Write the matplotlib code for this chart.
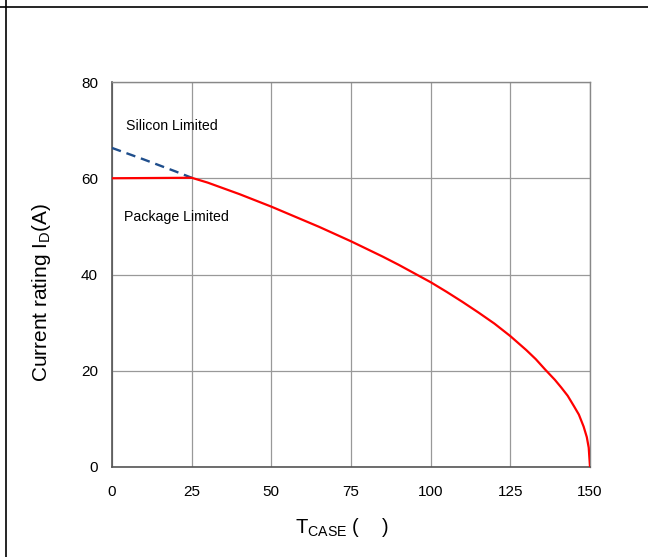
import matplotlib
matplotlib.use("Agg")
import matplotlib.pyplot as plt
from matplotlib.lines import Line2D

plt.rcParams['font.family'] = ['Liberation Sans', 'DejaVu Sans']
plt.rcParams['mathtext.fontset'] = 'custom'
plt.rcParams['mathtext.rm'] = 'Liberation Sans'
plt.rcParams['mathtext.it'] = 'Liberation Sans:italic'
plt.rcParams['mathtext.bf'] = 'Liberation Sans:bold'

# Silicon limited (dashed) segment
si_T = [0, 10, 20, 25]
si_I = [66.3, 63.9, 61.4, 60.1]

# Rated current curve (package limited then silicon limited)
cur_T = [0, 25, 30, 35, 40, 45, 50, 55, 60, 65, 70, 75, 80, 85, 90, 95, 100,
         105, 110, 115, 120, 125, 130, 133, 136, 139, 141, 143, 145, 146.5,
         148, 149, 149.6, 150]
cur_I = [60, 60.1, 59.1, 57.9, 56.7, 55.4, 54.1, 52.7, 51.3, 49.9, 48.4, 46.9,
         45.3, 43.7, 42.0, 40.2, 38.4, 36.4, 34.3, 32.1, 29.8, 27.2, 24.3, 22.4,
         20.2, 18.1, 16.5, 14.8, 12.6, 10.9, 8.4, 6.2, 4.0, 0]

x_ticks = [0, 25, 50, 75, 100, 125, 150]
y_ticks = [0, 20, 40, 60, 80]

fig = plt.figure(figsize=(6.48, 5.57), dpi=100)
ax = fig.add_axes([112/648, 1-467/557, (590-112)/648, (467-82)/557])

ax.plot(si_T, si_I, color='#1f4e8c', lw=1.7, ls=(0, (4, 2.5)), zorder=3)
ax.plot(cur_T, cur_I, color='#ff0000', lw=1.6, zorder=4, solid_joinstyle='round')

ax.set_xlim(0, 150)
ax.set_ylim(0, 80)
ax.set_xticks(x_ticks)
ax.set_yticks(y_ticks)
ax.tick_params(length=0, labelsize=11)
ax.tick_params(axis='x', pad=13)
ax.tick_params(axis='y', pad=10)
ax.grid(True, color='#999999', lw=0.9)
ax.set_axisbelow(True)
for s in ['left', 'bottom']:
    ax.spines[s].set_color('#555555')
    ax.spines[s].set_linewidth(1.2)
for s in ['top', 'right']:
    ax.spines[s].set_color('#888888')
    ax.spines[s].set_linewidth(1.0)

ax.text(4.3, 70.9, 'Silicon Limited', fontsize=10.2, ha='left', va='center')
ax.text(3.7, 52.0, 'Package Limited', fontsize=10.2, ha='left', va='center')

ax.set_xlabel(r'T$_{\mathrm{CASE}}$ (    )', fontsize=14.5, labelpad=12, x=0.481)
ax.set_ylabel(r'Current rating I$_{\mathrm{D}}$(A)', fontsize=15, labelpad=20, y=0.452)

# outer frame lines
fig.add_artist(Line2D([0, 1], [1-7/557, 1-7/557], transform=fig.transFigure, color='black', lw=1.2))
fig.add_artist(Line2D([6/648, 6/648], [0, 1], transform=fig.transFigure, color='black', lw=1.2))

fig.savefig('out.png', dpi=100)
